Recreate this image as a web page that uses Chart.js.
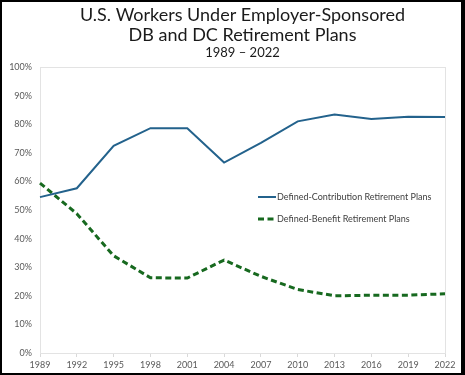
<!DOCTYPE html>
<html>
<head>
<meta charset="utf-8">
<script src="https://cdn.jsdelivr.net/npm/chart.js@4"></script>
<style>
  html, body { margin: 0; padding: 0; background: #fff; }
  #frame {
    width: 465px; height: 375px; box-sizing: border-box;
    border: 2px solid #000; border-right-width: 4px;
    background: #fff;
  }
  #wrap { position: relative; width: 459px; height: 371px; }
</style>
</head>
<body>
<div id="frame"><div id="wrap"><canvas id="plans"></canvas></div></div>
<script>
const years = ['1989','1992','1995','1998','2001','2004','2007','2010','2013','2016','2019','2022'];
const dcShare = [54.5, 57.6, 72.4, 78.6, 78.6, 66.6, 73.5, 81.0, 83.4, 81.8, 82.6, 82.5];
const dbShare = [59.4, 48.7, 34.0, 26.3, 26.2, 32.5, 26.8, 22.2, 20.0, 20.2, 20.2, 20.7];
const titleLines = ['U.S. Workers Under Employer-Sponsored', 'DB and DC Retirement Plans'];
const subtitleText = '1989 \u2013 2022';

const axisFont = { family: 'Lato, "Open Sans", sans-serif', size: 9 };

// light frame round the plot area
const plotBox = {
  id: 'plotBox',
  beforeDatasetsDraw(chart) {
    const a = chart.chartArea, ctx = chart.ctx;
    ctx.save();
    ctx.strokeStyle = '#e3e3e3';
    ctx.lineWidth = 1;
    ctx.strokeRect(Math.round(a.left) + 0.5, Math.round(a.top) + 0.5,
      Math.round(a.right - a.left), Math.round(a.bottom - a.top));
    ctx.restore();
  }
};

// legend sitting inside the plot, like the Excel original
const innerLegend = {
  id: 'innerLegend',
  afterDraw(chart) {
    const a = chart.chartArea, ctx = chart.ctx;
    ctx.save();
    ctx.font = '9px ' + axisFont.family;
    ctx.textBaseline = 'middle';
    chart.data.datasets.forEach(function (ds, i) {
      const x = a.left + 218, y = a.top + 130 + i * 22;
      ctx.strokeStyle = ds.borderColor;
      ctx.lineWidth = ds.borderWidth;
      ctx.setLineDash(ds.borderDash || []);
      ctx.beginPath();
      ctx.moveTo(x, y);
      ctx.lineTo(x + 18, y);
      ctx.stroke();
      ctx.setLineDash([]);
      ctx.fillStyle = '#404040';
      ctx.fillText(ds.label, x + 19, y);
    });
    ctx.restore();
  }
};

new Chart(document.getElementById('plans'), {
  type: 'line',
  data: {
    labels: years,
    datasets: [{
      label: 'Defined-Contribution Retirement Plans',
      data: dcShare,
      borderColor: '#23628c',
      borderWidth: 2,
      pointRadius: 0,
      tension: 0
    }, {
      label: 'Defined-Benefit Retirement Plans',
      data: dbShare,
      borderColor: '#17691f',
      borderWidth: 3,
      borderDash: [6, 3.5],
      pointRadius: 0,
      tension: 0
    }]
  },
  options: {
    responsive: true,
    maintainAspectRatio: false,
    animation: false,
    layout: { padding: { left: 0, right: 16, top: 0, bottom: 0 } },
    plugins: {
      legend: { display: false },
      tooltip: { enabled: false },
      title: {
        display: true,
        text: titleLines,
        fullSize: false,
        color: '#1a1a1a',
        font: { family: 'Lato, "Open Sans", sans-serif', size: 18, weight: 'normal', lineHeight: 1.1 },
        padding: { top: 3, bottom: 0 }
      },
      subtitle: {
        display: true,
        text: subtitleText,
        fullSize: false,
        color: '#1a1a1a',
        font: { family: 'Lato, "Open Sans", sans-serif', size: 13, lineHeight: 1.3 },
        padding: { top: 0, bottom: 5.5 }
      }
    },
    scales: {
      x: {
        offset: false,
        grid: { drawOnChartArea: false, drawTicks: true, tickLength: 4, color: '#d9d9d9' },
        border: { color: '#d9d9d9' },
        ticks: { color: '#595959', font: axisFont, padding: 3, maxRotation: 0, autoSkip: false },
        afterFit(scale) { scale.height = 20; }
      },
      y: {
        min: 0,
        max: 100,
        grid: { drawOnChartArea: false, drawTicks: false },
        border: { color: '#d9d9d9' },
        ticks: {
          stepSize: 10,
          color: '#595959',
          font: axisFont,
          padding: 8,
          callback: function (v) { return v + '%'; }
        },
        afterFit(scale) { scale.width = 38; }
      }
    }
  },
  plugins: [plotBox, innerLegend]
});
</script>
</body>
</html>
